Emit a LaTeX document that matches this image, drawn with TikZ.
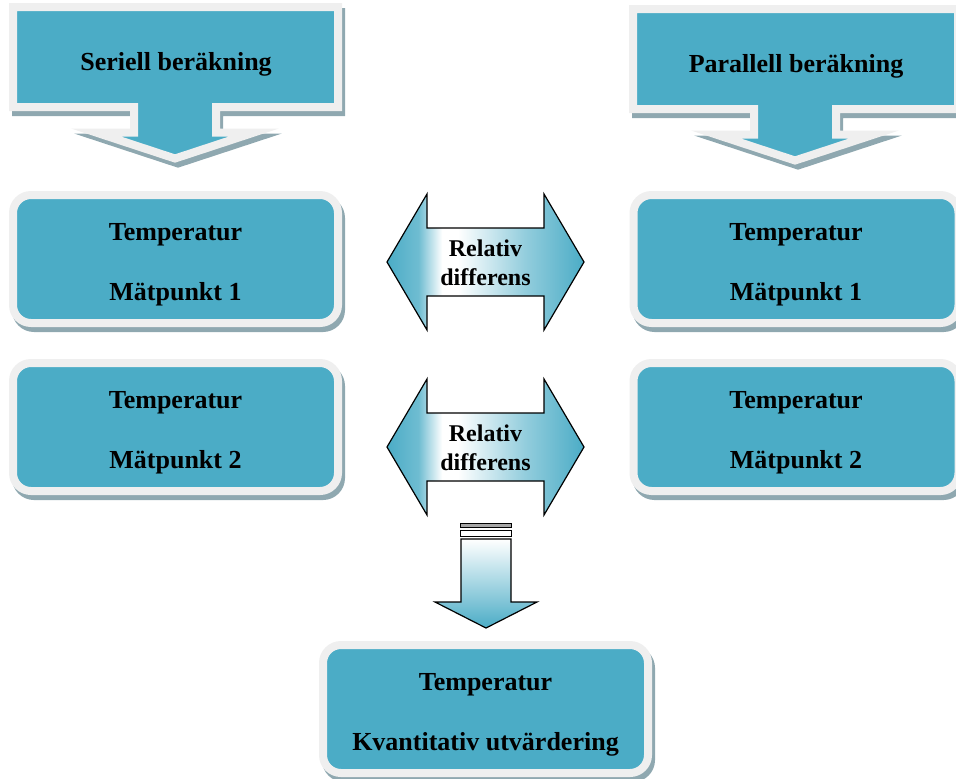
\documentclass[tikz,border=0pt]{standalone}
\usepackage{fontspec}
\setmainfont{Liberation Serif}
\usetikzlibrary{shadows}
\definecolor{ablue}{HTML}{4BACC6}
\definecolor{bordercol}{HTML}{EFEFEF}
\definecolor{shadowcol}{HTML}{8FA8B0}
\definecolor{stripegray}{HTML}{A6A6A6}
\newcommand{\toppad}{\rule{0pt}{21pt}}
\pgfdeclarehorizontalshading{relshade}{100bp}{color(0bp)=(ablue); color(25bp)=(ablue); color(33bp)=(ablue!80!white); color(39bp)=(white); color(43bp)=(white); color(60bp)=(ablue!60!white); color(75bp)=(ablue); color(100bp)=(ablue)}
\begin{document}
\begin{tikzpicture}[x=0.75pt,y=-0.75pt,
  tbox/.style={rectangle, rounded corners=13.5pt, fill=ablue, draw=bordercol,
    line width=6pt, minimum width=243.75pt, minimum height=96pt, inner sep=0pt,
    align=center, font=\fontsize{19.5}{45}\selectfont\bfseries,
    drop shadow={shadow xshift=2.25pt, shadow yshift=-3.75pt, fill=shadowcol,
      draw=shadowcol, line width=6pt, opacity=1}},
  callout/.style={fill=ablue, draw=bordercol, line width=6pt, line join=miter, miter limit=10},
  calloutshadow/.style={fill=shadowcol, draw=shadowcol, line width=6pt, line join=miter, miter limit=10},
  ctext/.style={font=\fontsize{19.5}{23}\selectfont\bfseries, inner sep=0pt},
  dtext/.style={font=\fontsize{18}{21.75}\selectfont\bfseries, align=center, inner sep=0pt},
  darrow/.style={shading=relshade, draw=black, line width=0.9pt, line join=miter},
  stripe/.style={draw=black, line width=0.75pt}
]
\useasboundingbox (0,0) rectangle (956,778);

% ---- callouts
\begin{scope}
  \filldraw[calloutshadow, shift={(3,5)}] (13,7) -- (338,7) -- (338,107) -- (216,107) -- (216,132.5) -- (254,132.5) -- (175,158.5) -- (96,132.5) -- (134,132.5) -- (134,107) -- (13,107) -- cycle;
  \filldraw[callout] (13,7) -- (338,7) -- (338,107) -- (216,107) -- (216,132.5) -- (254,132.5) -- (175,158.5) -- (96,132.5) -- (134,132.5) -- (134,107) -- (13,107) -- cycle;
  \node[ctext] (ser) at (176,64) {Seriell beräkning};
\end{scope}
\begin{scope}[shift={(620,2)}]
  \filldraw[calloutshadow, shift={(3,5)}] (13,7) -- (338,7) -- (338,107) -- (216,107) -- (216,132.5) -- (254,132.5) -- (175,158.5) -- (96,132.5) -- (134,132.5) -- (134,107) -- (13,107) -- cycle;
  \filldraw[callout] (13,7) -- (338,7) -- (338,107) -- (216,107) -- (216,132.5) -- (254,132.5) -- (175,158.5) -- (96,132.5) -- (134,132.5) -- (134,107) -- (13,107) -- cycle;
  \node[ctext] (par) at (176,64) {Parallell beräkning};
\end{scope}

% ---- boxes
\node[tbox] (l1) at (175.5,259) {\toppad Temperatur\\Mätpunkt 1};
\node[tbox] (l2) at (175.5,427) {\toppad Temperatur\\Mätpunkt 2};
\node[tbox] (r1) at (796,259) {\toppad Temperatur\\Mätpunkt 1};
\node[tbox] (r2) at (796,427) {\toppad Temperatur\\Mätpunkt 2};
\node[tbox] (kv) at (485.5,709) {\toppad Temperatur\\Kvantitativ utvärdering};

% ---- double arrows
\shadedraw[darrow] (387,262) -- (427,194) -- (427,228) -- (544,228) -- (544,194) -- (584,262) -- (544,330) -- (544,296) -- (427,296) -- (427,330) -- cycle;
\node[dtext] (rd1) at (485.5,263) {Relativ\\differens};
\shadedraw[darrow] (387,447) -- (427,379) -- (427,413) -- (544,413) -- (544,379) -- (584,447) -- (544,515) -- (544,481) -- (427,481) -- (427,515) -- cycle;
\node[dtext] (rd2) at (485.5,448) {Relativ\\differens};

% ---- striped down arrow
\filldraw[stripe, fill=stripegray] (460,523) rectangle (511,527);
\filldraw[stripe, fill=white] (460,530) rectangle (511,536);
\shadedraw[top color=white, bottom color=ablue, draw=black, line width=0.9pt, line join=miter]
  (461,539) -- (511,539) -- (511,602) -- (537,602) -- (486,628) -- (435,602) -- (461,602) -- cycle;
\end{tikzpicture}
\end{document}
